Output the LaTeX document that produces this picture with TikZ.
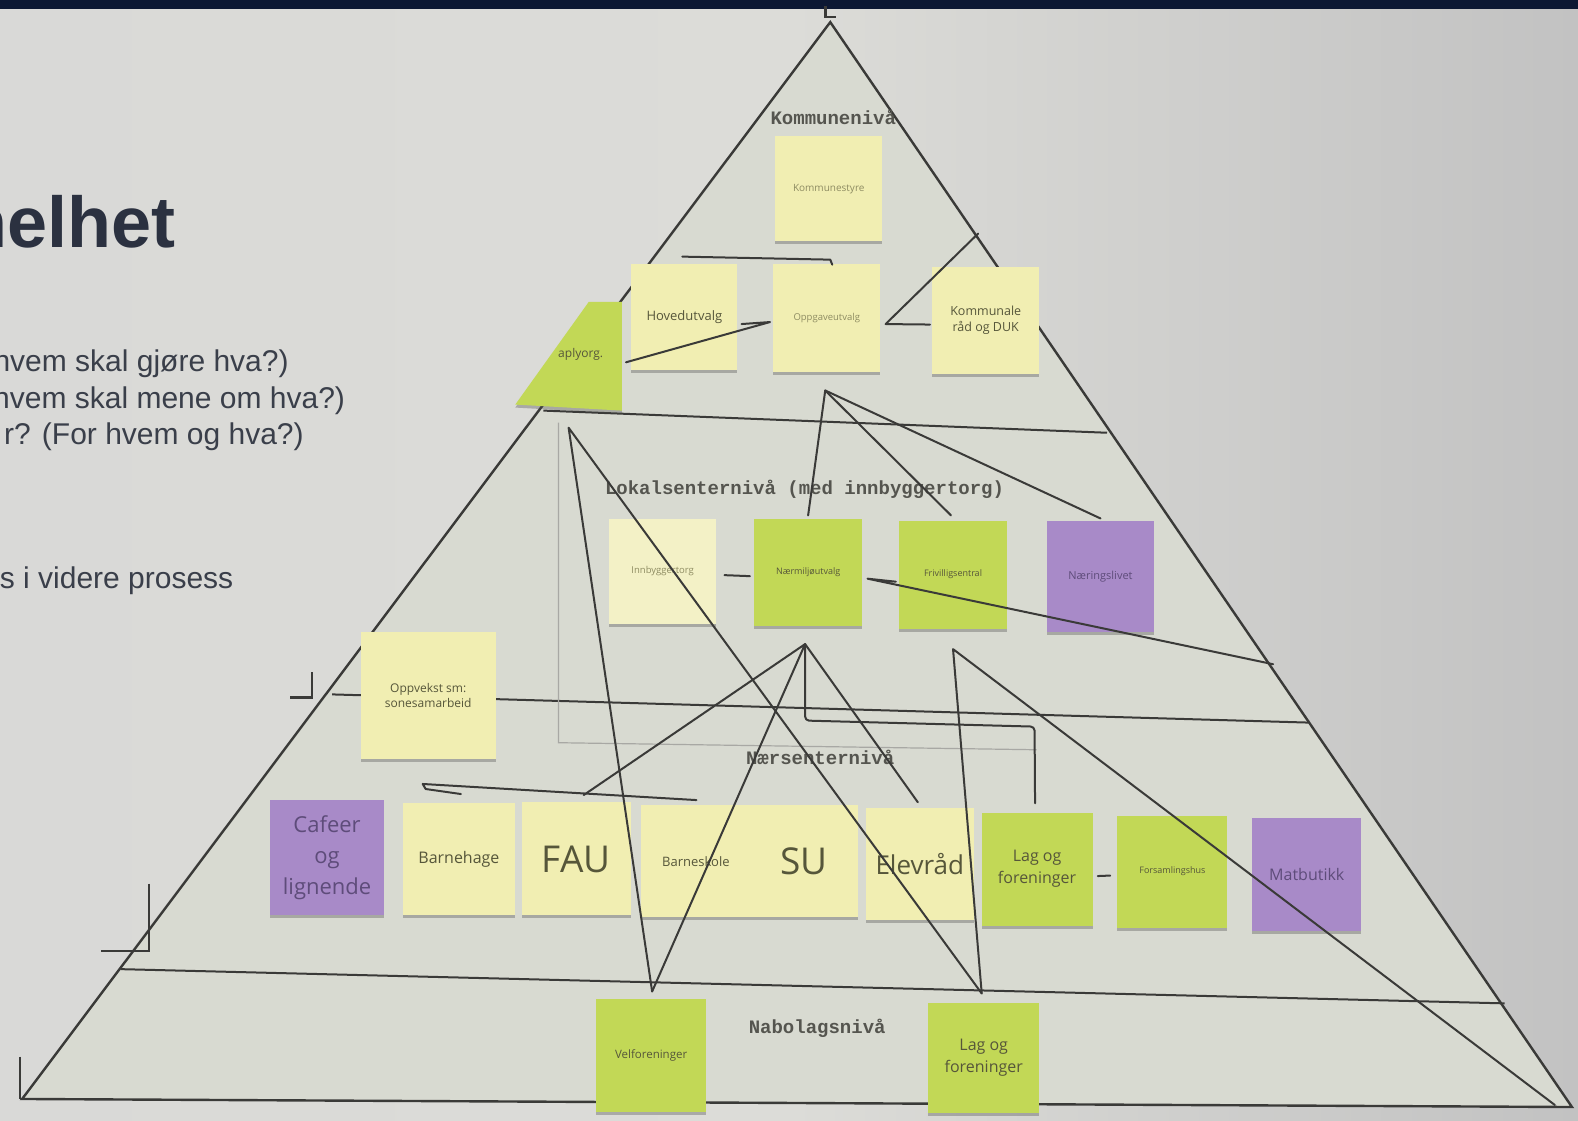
\documentclass[tikz,border=0pt]{standalone}
\usepackage{fontspec}
\setmainfont{Liberation Sans}
\newfontfamily\notef{Open Sans}
\newfontfamily\monof{Liberation Mono}
\usetikzlibrary{calc,shadows}
\definecolor{bgL}{HTML}{D9D9D7}
\definecolor{bgM}{HTML}{DCDCD8}
\definecolor{bgR}{HTML}{C2C2C2}
\definecolor{navy}{HTML}{0C1833}
\definecolor{pyrfill}{HTML}{D8DAD1}
\definecolor{linec}{HTML}{3A3A38}
\definecolor{framec}{HTML}{A8A8A4}
\definecolor{lvltext}{HTML}{55554F}
\definecolor{noteyel}{HTML}{F1EEB2}
\definecolor{notepale}{HTML}{F3F1C6}
\definecolor{notegrn}{HTML}{C2D856}
\definecolor{notepur}{HTML}{A88AC8}
\definecolor{notetext}{HTML}{56563A}
\definecolor{faintext}{HTML}{8E8C62}
\definecolor{purtext}{HTML}{5E4C7A}
\definecolor{slidetitle}{HTML}{2B3140}
\definecolor{slidetext}{HTML}{3A3F4A}
\begin{document}
\begin{tikzpicture}[x=1.0064pt,y=-1.0064pt,
  note/.style={rectangle, minimum width=107pt, minimum height=107pt, inner sep=2pt, align=center,
    text=notetext, drop shadow={shadow xshift=0pt, shadow yshift=-3pt, opacity=.35, fill=black!70}},
  yel/.style={note, fill=noteyel},
  pale/.style={note, fill=notepale},
  grn/.style={note, fill=notegrn},
  pur/.style={note, fill=notepur, text=purtext},
  fs/.style 2 args={font={\notef\fontsize{#1}{#2}\selectfont}},
  conn/.style={draw=linec, line width=2pt, line cap=round, line join=round},
  lvlline/.style={draw=linec, line width=2pt},
  cropm/.style={draw=linec, line width=2.6pt},
  lvl/.style={font={\monof\bfseries\fontsize{19}{22}\selectfont}, text=lvltext, inner sep=1pt},
  slide/.style={font={\fontsize{30}{34}\selectfont}, text=slidetext, anchor=base east, inner sep=0pt}
]
\useasboundingbox (0,0) rectangle (1568,1113);
% background
\shade[left color=bgL, right color=bgR, middle color=bgM] (0,0) rectangle (1568,1113);
\fill[navy] (0,0) rectangle (1568,9);
% slide text
\node[anchor=base east, inner sep=0pt, text=slidetitle, font={\bfseries\fontsize{72}{80}\selectfont}] (title) at (175,246) {helhet};
\node[slide] (s1) at (287,369) {hvem skal gjøre hva?)};
\node[slide] (s2) at (343,406) {hvem skal mene om hva?)};
\node[slide] (s3) at (302,442) {r? (For hvem og hva?)};
\node[slide] (s4) at (232,585) {s i videre prosess};
% pyramid
\coordinate (apex) at (825,22);
\coordinate (pl) at (22,1092);
\coordinate (pr) at (1562,1100);
\fill[pyrfill] (apex) -- (pl) -- (pr) -- cycle;
\draw[lvlline, line width=2.4pt, line join=miter] (apex) -- (pl) -- (pr) -- cycle;
% level lines
\draw[lvlline] (540,408) -- (1100,430);
\draw[lvlline] (330,690) -- (1300,718);
\draw[lvlline] (120,963) -- (1495,997);
% frame
\draw[framec, line width=1.2pt] (555,420) -- (555,738) -- (1030,745);
% crop marks
\draw[cropm] (820,6) -- (820,17) -- (831,17);
\draw[cropm] (310,668) -- (310,693) -- (288,693);
\draw[cropm] (148,878) -- (148,945) -- (100,945);
\draw[cropm] (20,1050) -- (20,1092);
% level labels
\node[lvl] (lk) at (828,117) {Kommunenivå};
\node[lvl, anchor=west] (ll) at (600,486) {Lokalsenternivå (med innbyggertorg)};
\node[lvl] (ln) at (815,753) {Nærsenternivå};
\node[lvl] (lb) at (812,1022) {Nabolagsnivå};
% notes: kommune
\node[yel, fs={10}{12}, text=faintext, minimum width=107pt, minimum height=105pt] (kstyre) at (823.5,187.5) {Kommunestyre};
\node[yel, fs={13}{16}, minimum width=106pt, minimum height=106pt] (hoved) at (680,315) {Hovedutvalg};
\node[yel, fs={9.5}{12}, text=faintext, minimum width=107pt, minimum height=108pt] (oppg) at (821.5,316) {Oppgaveutvalg};
\node[yel, fs={12.5}{16}, minimum width=107pt, minimum height=107pt] (krad) at (979.5,318.5) {Kommunale\\råd og DUK};
\fill[notegrn, drop shadow={shadow xshift=0pt, shadow yshift=-3pt, opacity=.35, fill=black!70}] (512,402) -- (585,300) -- (618,300) -- (618,408) -- cycle;
\node[fs={12}{14}, text=notetext, inner sep=0pt] (aply) at (577,352) {aplyorg.};
\coordinate (apR) at (622,360);
% lokalsenter
\node[pale, fs={9.5}{12}, text=faintext, minimum width=107pt, minimum height=105pt] (innb) at (658.5,567.5) {Innbyggertorg};
\node[grn, fs={9}{11}, minimum width=108pt, minimum height=107pt] (naermiljo) at (803,568.5) {Nærmiljøutvalg};
\node[grn, fs={9}{11}, minimum width=108pt, minimum height=108pt] (frivillig) at (947,571) {Frivilligsentral};
\node[pur, fs={11}{13}, minimum width=107pt, minimum height=111pt] (naering) at (1093.5,572.5) {Næringslivet};
% naersenter
\node[yel, fs={12}{15}, minimum width=135pt, minimum height=127pt] (oppvekst) at (425.5,691.5) {Oppvekst sm:\\sonesamarbeid};
\node[pur, fs={22}{31}, minimum width=114pt, minimum height=115pt, inner sep=0pt] (cafe) at (325,852.5) {Cafeer\\og\\lignende};
\node[yel, fs={16}{19}, minimum width=112pt, minimum height=112pt] (barnehage) at (456,854) {Barnehage};
\node[yel, fs={37}{40}, minimum width=109pt, minimum height=113pt] (fau) at (572.5,853.5) {FAU};
\node[yel, fs={13}{16}, minimum width=109pt, minimum height=112pt] (barneskole) at (691.5,856) {Barneskole};
\node[yel, fs={37}{40}, minimum width=108pt, minimum height=112pt] (su) at (799,856) {SU};
\node[yel, fs={26}{30}, minimum width=108pt, minimum height=112pt] (elevrad) at (914,859) {Elevråd};
\node[grn, fs={16}{22}, minimum width=111pt, minimum height=113pt] (lag1) at (1030.5,863.5) {Lag og\\foreninger};
\node[grn, fs={9}{11}, minimum width=110pt, minimum height=112pt] (forsaml) at (1165,866) {Forsamlingshus};
\node[pur, fs={16}{19}, minimum width=109pt, minimum height=113pt] (matbutikk) at (1298.5,868.5) {Matbutikk};
% nabolag
\node[grn, fs={11.5}{14}, minimum width=110pt, minimum height=113pt] (velfor) at (647,1048.5) {Velforeninger};
\node[grn, fs={16}{22}, minimum width=111pt, minimum height=110pt] (lag2) at (977.5,1051) {Lag og\\foreninger};
% connectors
\coordinate (t1) at (678,255);
\coordinate (t2) at (825,258);
\draw[conn] (t1) -- (t2) -- ++(2,5);
\draw[conn] (apR) -- ($(oppg.west)+(-3,4)$) -- ($(hoved.east)+(4,7)$);
\coordinate (kr1) at (972,232);
\coordinate (kr2) at (880,322);
\draw[conn] (kr1) -- (kr2) -- ($(krad.west)+(-2,4)$);
\coordinate (fanA) at (820,388);
\draw[conn] ($(naermiljo.north)+(0,-3)$) -- (fanA) -- ($(frivillig.north)+(-2,-5)$);
\draw[conn] (fanA) -- ($(naering.north)+(0,-2)$);
\draw[conn] ($(innb.east)+(8,4)$) -- ($(naermiljo.west)+(-4,4)$);
\coordinate (j2) at (862,575);
\coordinate (re1) at (1265,660);
\draw[conn] ($(frivillig.west)+(-3,7)$) -- (j2) -- (re1);
\coordinate (fanL) at (565,425);
\draw[conn] ($(velfor.north)+(1,-7)$) -- (fanL) -- ($(lag2.north)+(-2,-9)$);
\coordinate (fanM) at (800,640);
\coordinate (hl1) at (580,790);
\draw[conn] (hl1) -- (fanM) -- ($(velfor.north)+(1,-7)$);
\draw[conn] (fanM) -- ($(elevrad.north)+(-2,-6)$);
\draw[conn, rounded corners=4pt] (fanM) -- (800,716) -- (1028,722) -- ($(lag1.north)+(-2,-9)$);
\coordinate (hA) at (692,795);
\coordinate (hB) at (420,779);
\draw[conn] (hA) -- (hB) -- (423,784) -- (458,789);
\coordinate (fanR) at (947,645);
\coordinate (br) at (1545,1098);
\draw[conn] ($(lag2.north)+(-2,-9)$) -- (fanR) -- (br);
\draw[conn] ($(lag1.east)+(5,7)$) -- ($(forsaml.west)+(-7,4)$);
\end{tikzpicture}
\end{document}
